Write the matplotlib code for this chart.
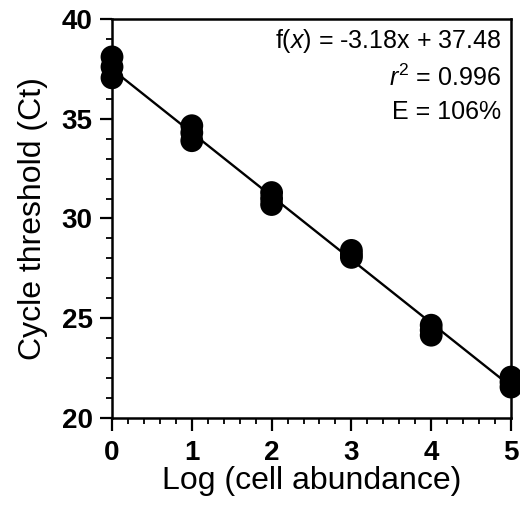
import numpy as np
import matplotlib
matplotlib.use("Agg")
import matplotlib.pyplot as plt
from matplotlib.ticker import MultipleLocator

plt.rcParams['font.family'] = ['Liberation Sans', 'DejaVu Sans']
plt.rcParams['mathtext.fontset'] = 'custom'
plt.rcParams['mathtext.rm'] = 'Liberation Sans'
plt.rcParams['mathtext.it'] = 'Liberation Sans:italic'

# replicate Ct values per log(cell abundance)
log_abundance = [0, 1, 2, 3, 4, 5]
ct_rep1 = [38.10, 34.65, 31.30, 28.40, 24.65, 22.05]
ct_rep2 = [37.60, 34.30, 31.00, 28.20, 24.40, 21.80]
ct_rep3 = [37.05, 33.90, 30.70, 28.05, 24.15, 21.55]

slope = -3.18
intercept = 37.48
r2 = 0.996
efficiency = 106

fig = plt.figure(figsize=(5.2, 5.08), dpi=100)
ax = fig.add_axes([0.2154, 0.1772, 0.7673, 0.7854])

x = np.array(log_abundance, dtype=float)
for rep in (ct_rep1, ct_rep2, ct_rep3):
    ax.scatter(x, rep, s=270, color='black', edgecolors='none', zorder=3, clip_on=False)

xfit = np.array([x.min(), x.max()])
ax.plot(xfit, slope * xfit + intercept, color='black', lw=1.7, zorder=2)

ax.set_xlim(0, 5)
ax.set_ylim(20, 40)
ax.xaxis.set_major_locator(MultipleLocator(1))
ax.xaxis.set_minor_locator(MultipleLocator(0.2))
ax.yaxis.set_major_locator(MultipleLocator(5))
ax.yaxis.set_minor_locator(MultipleLocator(1))

for sp in ax.spines.values():
    sp.set_linewidth(1.8)
ax.tick_params(which='major', direction='out', length=9, width=1.6, labelsize=20, pad=5)
ax.tick_params(axis='x', which='major', pad=7)
ax.tick_params(which='minor', direction='out', length=4.5, width=1.3)
for lab in ax.get_xticklabels() + ax.get_yticklabels():
    lab.set_fontweight('bold')

ax.set_xlabel('Log (cell abundance)', fontsize=23, labelpad=0)
ax.set_ylabel('Cycle threshold (Ct)', fontsize=23, labelpad=10)

ann = ('f($\\mathit{x}$) = %.2fx + %.2f\n$\\mathit{r}^{2}$ = %.3f\nE = %d%%'
       % (slope, intercept, r2, efficiency))
ax.text(0.975, 0.98, ann, transform=ax.transAxes, ha='right', va='top',
        fontsize=18, linespacing=1.45, multialignment='right')

fig.savefig('out.png', dpi=100)
